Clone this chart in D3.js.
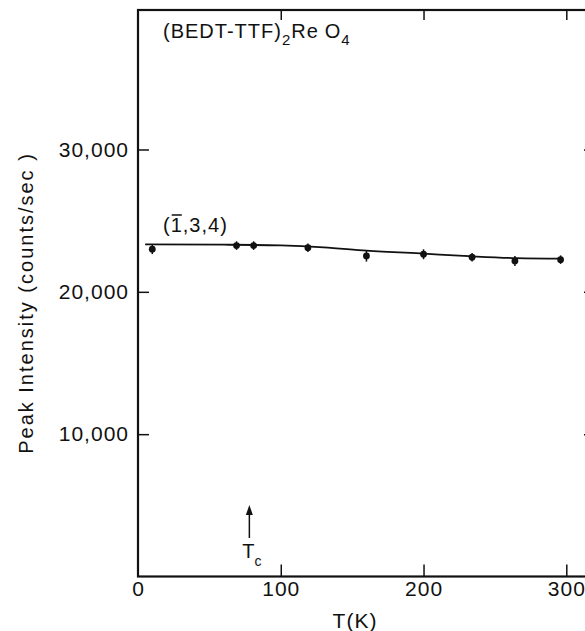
<!DOCTYPE html>
<html>
<head>
<meta charset="utf-8">
<script src="https://cdn.jsdelivr.net/npm/d3@7"></script>
<style>
  body { margin: 0; background: #fff; }
  text { font-family: "Liberation Sans", Helvetica, Arial, sans-serif; fill: #111; }
</style>
</head>
<body>
<svg id="chart" width="585" height="631"></svg>
<script>
// measured points, (-1,3,4) reflection
const temps = [10, 69, 81, 119, 160, 200, 234, 264, 296];
const peaks = [23000, 23250, 23250, 23100, 22520, 22640, 22430, 22170, 22260];
const errs = [350, 300, 300, 300, 400, 350, 300, 350, 300];

// hand-drawn guide line through the points
const fitT = [5, 60, 100, 130, 160, 200, 235, 265, 297];
const fitY = [23330, 23310, 23260, 23130, 22900, 22680, 22490, 22370, 22330];

const xTicks = [0, 100, 200, 300];
const yTicks = [10000, 20000, 30000];

const width = 585, height = 631;
const plotLeft = 138, plotRight = 592, plotTop = 10, plotBottom = 576.5;

const svg = d3.select("#chart");
svg.append("rect").attr("width", width).attr("height", height).attr("fill", "#fff");

const xScale = d3.scaleLinear().domain([0, 318]).range([plotLeft, plotRight]);
const yScale = d3.scaleLinear().domain([0, 39800]).range([plotBottom, plotTop]);

// frame
svg.append("rect")
  .attr("x", plotLeft).attr("y", plotTop)
  .attr("width", plotRight - plotLeft).attr("height", plotBottom - plotTop)
  .attr("fill", "none").attr("stroke", "#111").attr("stroke-width", 2.2);

// axes, ticks pointing inward
const yAxis = svg.append("g")
  .attr("transform", `translate(${plotLeft},0)`)
  .call(d3.axisLeft(yScale).tickValues(yTicks).tickFormat(d3.format(",")).tickSize(-11).tickPadding(9));

const xAxis = svg.append("g")
  .attr("transform", `translate(0,${plotBottom})`)
  .call(d3.axisBottom(xScale).tickValues(xTicks).tickSize(-12).tickPadding(5));

svg.append("g")
  .attr("transform", `translate(0,${plotTop})`)
  .call(d3.axisTop(xScale).tickValues(xTicks.slice(1)).tickSize(-10).tickFormat(""));

svg.append("g")
  .attr("transform", `translate(${plotRight},0)`)
  .call(d3.axisRight(yScale).tickValues(yTicks).tickSize(-8).tickFormat(""));

svg.selectAll(".domain").remove();
svg.selectAll(".tick line").attr("stroke", "#111").attr("stroke-width", 1.5);
svg.selectAll(".tick text")
  .attr("font-family", "Liberation Sans, Helvetica, Arial, sans-serif")
  .attr("font-size", 21)
  .attr("fill", "#111")
  .style("letter-spacing", "1px");
xAxis.selectAll(".tick line").filter(d => d === 0).remove();

// guide line
const line = d3.line()
  .x((d, i) => xScale(fitT[i]))
  .y(d => yScale(d))
  .curve(d3.curveMonotoneX);

svg.append("path")
  .datum(fitY)
  .attr("d", line)
  .attr("fill", "none")
  .attr("stroke", "#111")
  .attr("stroke-width", 1.8);

// points with error bars
const pts = svg.append("g").selectAll("g")
  .data(temps.map((t, i) => ({ t, v: peaks[i], e: errs[i] })))
  .join("g");

pts.append("line")
  .attr("x1", d => xScale(d.t)).attr("x2", d => xScale(d.t))
  .attr("y1", d => yScale(d.v + d.e)).attr("y2", d => yScale(d.v - d.e))
  .attr("stroke", "#111").attr("stroke-width", 1.5);

pts.append("circle")
  .attr("cx", d => xScale(d.t))
  .attr("cy", d => yScale(d.v))
  .attr("r", 3.4)
  .attr("fill", "#111");

// title
const title = svg.append("text").attr("x", 163).attr("y", 38)
  .attr("font-size", 20).style("letter-spacing", "1px");
title.append("tspan").text("(BEDT-TTF)");
title.append("tspan").attr("font-size", 15).attr("dy", 7).text("2");
title.append("tspan").attr("dy", -7).text("Re");
title.append("tspan").attr("dx", 6).text("O");
title.append("tspan").attr("font-size", 15).attr("dy", 7).text("4");

// reflection label with overbar on the 1
const refl = svg.append("text").attr("x", 163).attr("y", 232)
  .attr("font-size", 20).style("letter-spacing", "1px")
  .text("(1,3,4)");
const ext = refl.node().getExtentOfChar(1);
svg.append("line")
  .attr("x1", ext.x + 1).attr("x2", ext.x + ext.width - 1)
  .attr("y1", 215).attr("y2", 215)
  .attr("stroke", "#111").attr("stroke-width", 1.5);

// Tc marker
const tcX = xScale(78);
svg.append("line")
  .attr("x1", tcX).attr("x2", tcX)
  .attr("y1", 538).attr("y2", 512)
  .attr("stroke", "#111").attr("stroke-width", 1.5);
svg.append("path")
  .attr("d", `M${tcX},505 L${tcX - 3.5},515 L${tcX + 3.5},515 Z`)
  .attr("fill", "#111");
const tc = svg.append("text").attr("x", tcX - 7).attr("y", 558).attr("font-size", 20);
tc.append("tspan").text("T");
tc.append("tspan").attr("font-size", 14).attr("dy", 8).text("c");

// axis titles
svg.append("text")
  .attr("x", 355).attr("y", 628)
  .attr("text-anchor", "middle")
  .attr("font-size", 21).style("letter-spacing", "1px")
  .text("T(K)");

svg.append("text")
  .attr("transform", "translate(33,303) rotate(-90)")
  .attr("text-anchor", "middle")
  .attr("font-size", 20).style("letter-spacing", "2px")
  .text("Peak Intensity (counts/sec )");
</script>
</body>
</html>
